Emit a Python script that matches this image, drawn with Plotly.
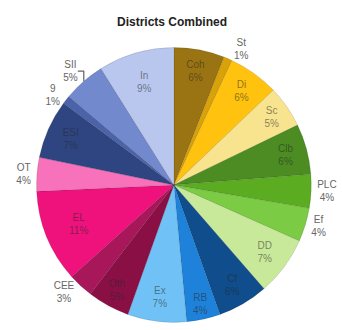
import plotly.graph_objects as go

# District shares, listed clockwise from 12 o'clock
labels = ["Coh", "St", "Di", "Sc", "Clb", "PLC", "Ef", "DD", "Cf", "RB",
          "Ex", "Oth", "CEE", "EL", "OT", "ESI", "9", "SII", "In"]
values = [6, 1, 6, 5, 6, 4, 4, 7, 6, 4,
          7, 5, 3, 11, 4, 7, 1, 5, 9]

colors = ["#9A7412", "#D8A208", "#FFC20E", "#F8E38E", "#4C8C22", "#5CAC22",
          "#7CCB44", "#C9E99A", "#0F4D8C", "#1F82DA", "#70C2F6", "#8A0F45",
          "#A8175A", "#F0127C", "#F772BA", "#2F4582", "#4B63A9", "#7289CD",
          "#B9C7EF"]

outside = {"St", "PLC", "Ef", "CEE", "OT", "9", "SII"}
positions = ["outside" if l in outside else "inside" for l in labels]

fig = go.Figure(go.Pie(
    labels=labels,
    values=values,
    sort=False,
    direction="clockwise",
    rotation=0,
    marker=dict(colors=colors, line=dict(color="rgba(0,0,0,0.18)", width=0.6)),
    texttemplate="%{label}<br>%{value}%",
    textposition=positions,
    insidetextorientation="horizontal",
    insidetextfont=dict(family="Liberation Sans", size=10, color="rgba(40,40,40,0.55)"),
    outsidetextfont=dict(family="Liberation Sans", size=10, color="#666666"),
    showlegend=False,
    hoverinfo="label+percent",
    domain=dict(x=[0.108, 0.921], y=[0.018, 0.861]),
))

fig.update_layout(
    width=342, height=330,
    margin=dict(l=0, r=0, t=0, b=0),
    paper_bgcolor="white",
    title=dict(text="<b>Districts Combined</b>", x=0.503, xanchor="center",
               y=0.935, yanchor="middle",
               font=dict(family="Liberation Sans", size=12, color="#222222")),
    uniformtext=dict(minsize=9, mode=False),
)

fig.write_html("out.html")
